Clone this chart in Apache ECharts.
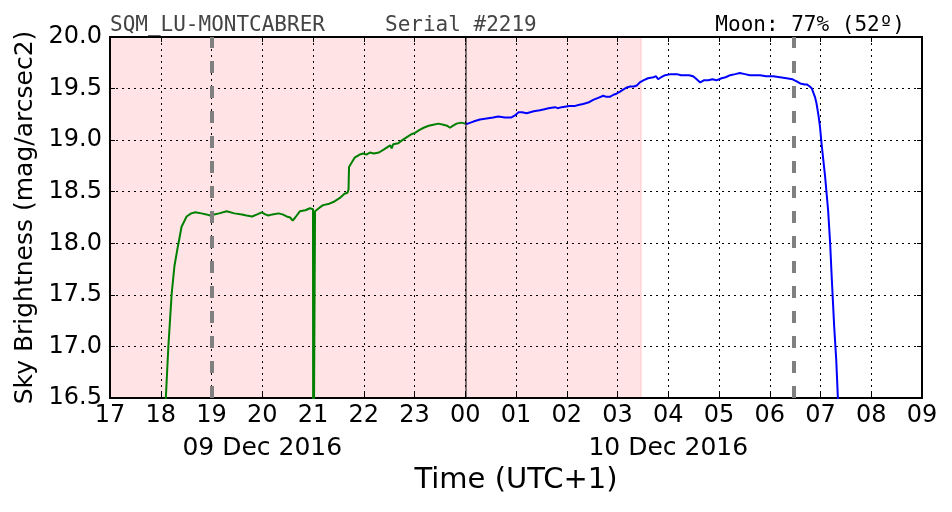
<!DOCTYPE html>
<html>
<head>
<meta charset="utf-8">
<script src="https://cdn.jsdelivr.net/npm/echarts@6/dist/echarts.min.js"></script>
<style>html,body{margin:0;padding:0;background:#fff;}#c{width:952px;height:512px;}</style>
</head>
<body>
<div id="c"></div>
<script>
// Time in hours since 00:00 of 09 Dec 2016 (values > 24 are on 10 Dec)
const greenTime = [18.06,18.10,18.15,18.215,18.27,18.33,18.41,18.51,18.60,18.68,18.80,18.90,18.97,19.05,19.15,19.30,19.45,19.60,19.69,19.80,19.90,19.99,20.06,20.12,20.20,20.32,20.40,20.48,20.55,20.60,20.65,20.74,20.85,20.94,21.00,21.005,21.035,21.04,21.07,21.14,21.20,21.30,21.40,21.53,21.62,21.68,21.70,21.71,21.76,21.82,21.92,21.99,22.05,22.12,22.20,22.30,22.40,22.52,22.55,22.58,22.68,22.76,22.85,22.95,23.01,23.10,23.18,23.28,23.37,23.47,23.57,23.64,23.70,23.76,23.83,23.92,24.00];
const greenSky  = [16.30,16.50,17.00,17.51,17.78,17.95,18.16,18.26,18.29,18.30,18.29,18.28,18.27,18.28,18.29,18.31,18.29,18.28,18.27,18.26,18.28,18.30,18.28,18.27,18.28,18.29,18.28,18.26,18.25,18.22,18.25,18.31,18.32,18.34,18.33,15.00,15.00,18.31,18.32,18.35,18.37,18.38,18.40,18.44,18.48,18.49,18.52,18.74,18.78,18.83,18.86,18.87,18.86,18.88,18.87,18.88,18.91,18.95,18.92,18.96,18.97,19.00,19.03,19.06,19.07,19.10,19.12,19.14,19.15,19.16,19.15,19.14,19.12,19.14,19.16,19.17,19.16];
const blueTime = [24.00,24.05,24.16,24.29,24.42,24.55,24.65,24.78,24.91,24.98,25.05,25.12,25.21,25.35,25.47,25.56,25.64,25.77,25.82,25.90,26.05,26.15,26.23,26.32,26.39,26.45,26.52,26.62,26.72,26.78,26.85,26.92,26.98,27.05,27.11,27.18,27.25,27.32,27.38,27.44,27.51,27.60,27.71,27.76,27.80,27.86,27.94,28.05,28.17,28.25,28.33,28.41,28.49,28.56,28.63,28.70,28.79,28.87,28.95,29.05,29.13,29.22,29.32,29.41,29.51,29.61,29.71,29.81,29.93,30.07,30.20,30.33,30.45,30.53,30.60,30.69,30.73,30.79,30.83,30.89,30.92,30.96,30.99,31.02,31.09,31.15,31.19,31.22,31.27,31.31,31.34,31.36];
const blueSky  = [19.16,19.16,19.18,19.20,19.21,19.22,19.23,19.22,19.22,19.24,19.27,19.27,19.26,19.28,19.29,19.30,19.31,19.32,19.31,19.32,19.33,19.33,19.34,19.35,19.36,19.37,19.39,19.41,19.43,19.42,19.42,19.44,19.45,19.47,19.49,19.51,19.52,19.52,19.53,19.56,19.58,19.60,19.61,19.62,19.59,19.61,19.63,19.64,19.64,19.63,19.63,19.63,19.62,19.59,19.56,19.58,19.58,19.59,19.58,19.60,19.61,19.63,19.64,19.65,19.64,19.63,19.63,19.63,19.62,19.62,19.61,19.60,19.59,19.57,19.55,19.54,19.54,19.52,19.50,19.42,19.36,19.24,19.13,18.97,18.65,18.32,18.00,17.68,17.19,16.87,16.53,16.30];
const xRange = [17, 33];
const yRange = [16.5, 20.0];
const dateTicks = {20: '09 Dec 2016', 28: '10 Dec 2016'};
const nightEnd = 27.463;      // end of shaded (night) region
const midnight = 24;
const moonLines = [19.0, 30.476];
const titleLeft = 'SQM_LU-MONTCABRER';
const titleMid = 'Serial #2219';
const titleRight = 'Moon: 77% (52º)';

const zip = (a, b) => a.map((v, i) => [v, b[i]]);
const FONT = 'DejaVu Sans';
const dotted = {color: '#000', width: 1, type: [2, 4]};
const frame = {show: true, onZero: false, lineStyle: {color: '#000', width: 2}};
const tickIn = {show: true, inside: true, length: 5, lineStyle: {color: '#000', width: 1}};

const chart = echarts.init(document.getElementById('c'), null, {renderer: 'canvas'});
chart.setOption({
  animation: false,
  backgroundColor: '#fff',
  grid: {left: 110, right: 30, top: 37, bottom: 114, containLabel: false},
  xAxis: [
    {type: 'value', min: xRange[0], max: xRange[1], interval: 1, position: 'bottom', z: 1,
     axisLine: frame, axisTick: tickIn,
     axisLabel: {color: '#000', fontFamily: FONT, fontSize: 24, margin: 6,
       formatter: v => String(Math.round(v) % 24).padStart(2, '0')},
     splitLine: {show: true, lineStyle: dotted},
     name: 'Time (UTC+1)', nameLocation: 'middle', nameGap: 68,
     nameTextStyle: {color: '#000', fontFamily: FONT, fontSize: 29}},
    {type: 'value', min: xRange[0], max: xRange[1], interval: 1, position: 'top', z: 1,
     axisLine: frame, axisTick: tickIn, axisLabel: {show: false}, splitLine: {show: false}},
    {type: 'value', min: xRange[0], max: xRange[1], interval: 1, position: 'bottom', z: 1,
     axisLine: {show: false}, axisTick: {show: false}, splitLine: {show: false},
     axisLabel: {color: '#000', fontFamily: FONT, fontSize: 25, margin: 38,
       formatter: v => dateTicks[Math.round(v)] || ''}}
  ],
  yAxis: [
    {type: 'value', min: yRange[0], max: yRange[1], interval: 0.5, position: 'left', z: 1,
     axisLine: frame, axisTick: tickIn,
     axisLabel: {color: '#000', fontFamily: FONT, fontSize: 24, margin: 8, formatter: v => v.toFixed(1)},
     splitLine: {show: true, lineStyle: dotted},
     name: 'Sky Brightness (mag/arcsec2)', nameLocation: 'middle', nameGap: 68, nameRotate: 90,
     nameTextStyle: {color: '#000', fontFamily: FONT, fontSize: 25}},
    {type: 'value', min: yRange[0], max: yRange[1], interval: 0.5, position: 'right', z: 1,
     axisLine: frame, axisTick: tickIn, axisLabel: {show: false}, splitLine: {show: false}}
  ],
  graphic: [
    {type: 'text', left: 110, top: 15, z: 20, style: {text: titleLeft, font: '21px "DejaVu Sans Mono"', fill: '#444'}},
    {type: 'text', left: 385, top: 15, z: 20, style: {text: titleMid, font: '21px "DejaVu Sans Mono"', fill: '#444'}},
    {type: 'text', right: 47, top: 15, z: 20, style: {text: titleRight, font: '21px "DejaVu Sans Mono"', fill: '#000'}}
  ],
  series: [
    {type: 'line', xAxisIndex: 0, yAxisIndex: 0, data: [], z: 0, silent: true,
     markArea: {silent: true, z: -1, itemStyle: {color: '#ffe3e5', borderColor: '#ffc8cc', borderWidth: 1},
       data: [[{xAxis: xRange[0]}, {xAxis: nightEnd}]]}},
    {type: 'line', xAxisIndex: 0, yAxisIndex: 0, data: zip(greenTime, greenSky), showSymbol: false,
     clip: true, lineStyle: {color: '#008000', width: 2}, z: 3,
     markLine: {silent: true, symbol: 'none', label: {show: false},
       lineStyle: {color: 'rgba(0,0,0,0.5)', width: 2, type: 'solid'},
       data: [{xAxis: midnight}]}},
    {type: 'line', xAxisIndex: 0, yAxisIndex: 0, data: zip(blueTime, blueSky), showSymbol: false,
     clip: true, lineStyle: {color: '#0000ff', width: 2}, z: 3,
     markLine: {silent: true, symbol: 'none', label: {show: false},
       lineStyle: {color: '#808080', width: 4, type: [12, 13]},
       data: moonLines.map(v => ({xAxis: v}))}}
  ]
});
</script>
</body>
</html>
